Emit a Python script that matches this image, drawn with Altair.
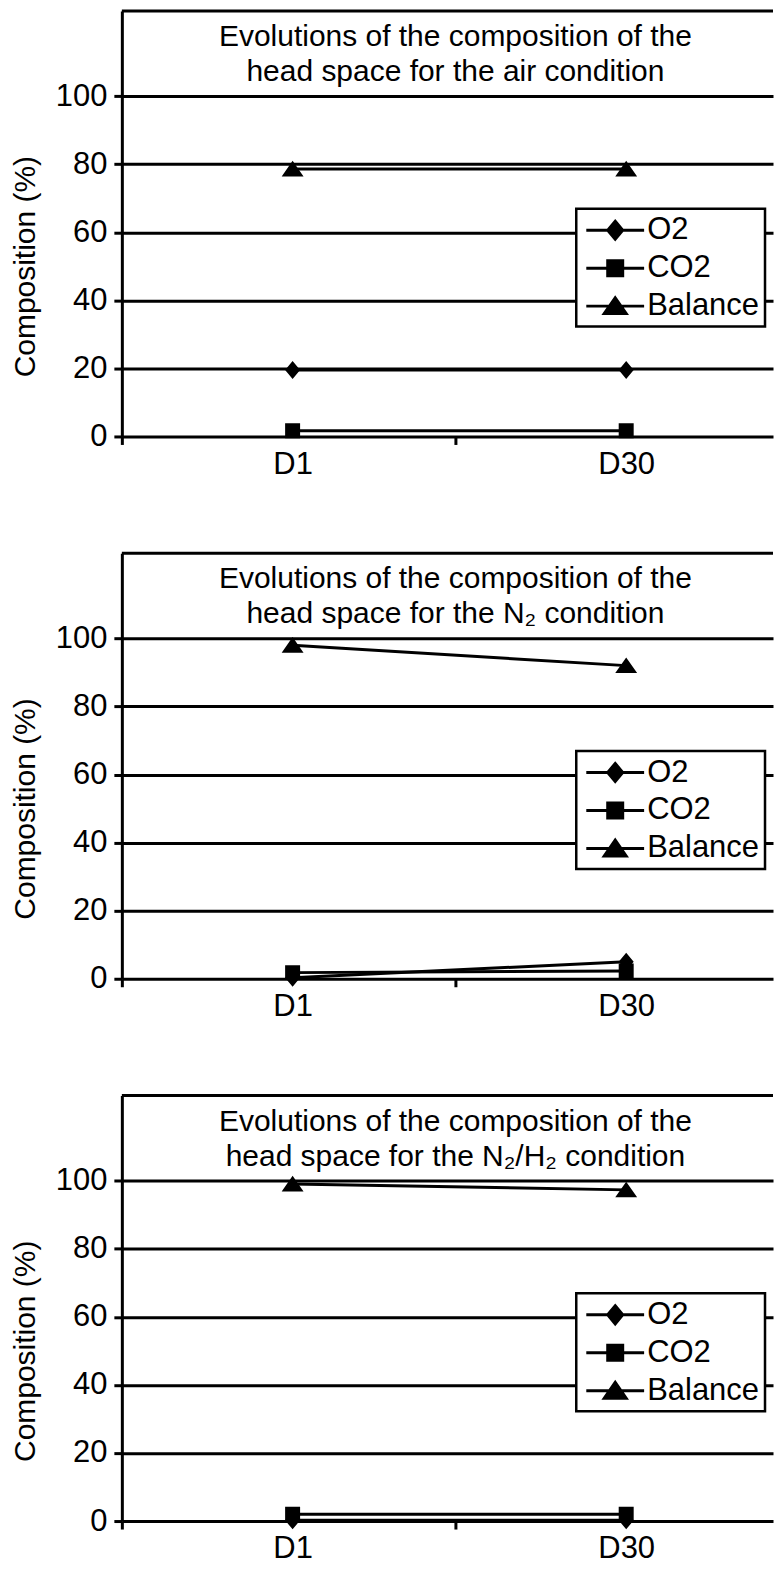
import altair as alt
import pandas as pd

# ---- data ----
days = ["D1", "D30"]
series = ["O2", "CO2", "Balance"]
y_ticks = [0, 20, 40, 60, 80, 100]
y_top = 125

titles = [
    ["Evolutions of the composition of the", "head space for the air condition"],
    ["Evolutions of the composition of the", "head space for the N\u2082 condition"],
    ["Evolutions of the composition of the", "head space for the N\u2082/H\u2082 condition"],
]

air_o2 = [19.5, 19.5]
air_co2 = [1.7, 1.7]
air_bal = [78.6, 78.6]

n2_o2 = [0.3, 5.0]
n2_co2 = [1.8, 2.3]
n2_bal = [98.0, 92.0]

nh_o2 = [0.2, 0.2]
nh_co2 = [2.0, 2.0]
nh_bal = [99.0, 97.3]

panels = [
    (air_o2, air_co2, air_bal),
    (n2_o2, n2_co2, n2_bal),
    (nh_o2, nh_co2, nh_bal),
]

FONT = "Liberation Sans, Arial, Helvetica, sans-serif"
W, H = 652, 426

# marker shapes: a horizontal line (visible only when stroked, i.e. in the legend) + filled marker
L = 1.93
shape_paths = [
    f"M-{L},0H{L}M0,-0.6L0.5,0L0,0.6L-0.5,0Z",          # diamond
    f"M-{L},0H{L}M-0.5,-0.5H0.5V0.5H-0.5Z",              # square
    f"M-{L},0H{L}M0,-0.55L0.73,0.5L-0.73,0.5Z",          # triangle
]
shape_scale = alt.Scale(domain=series, range=shape_paths)

x_enc = alt.X(
    "day:N",
    sort=days,
    title=None,
    scale=alt.Scale(type="point", padding=0.476, align=0.5377),
    axis=alt.Axis(
        labelAngle=0,
        grid=False,
        domain=False,
        ticks=True,
        tickColor="black",
        tickWidth=3,
        tickSize=8,
        tickOffset=-171,
        labelOffset=171,
        labelPadding=29,
        labelBaseline="alphabetic",
        labelFont=FONT,
        labelFontSize=31,
        labelColor="black",
    ),
)

y_scale = alt.Scale(domain=[0, y_top], nice=False, zero=True)
y_axis = alt.Axis(
    values=y_ticks,
    title="Composition (%)",
    titleFont=FONT,
    titleFontSize=30,
    titleFontWeight="normal",
    titleColor="black",
    titleAngle=270,
    titleBaseline="alphabetic",
    titleX=-87,
    titleY=255.5,
    grid=True,
    gridColor="black",
    gridWidth=3,
    gridOpacity=1,
    domainColor="black",
    domainWidth=3,
    tickColor="black",
    tickWidth=3,
    tickSize=8,
    labelPadding=7,
    labelFont=FONT,
    labelFontSize=31,
    labelColor="black",
)


def panel(values, title_lines):
    rows = []
    for s, vals in zip(series, values):
        for d, v in zip(days, vals):
            rows.append({"day": d, "series": s, "value": v})
    df = pd.DataFrame(rows)

    base = alt.Chart(df).encode(x=x_enc, y=alt.Y("value:Q", scale=y_scale, axis=y_axis))

    # legend source (first layer so its legend settings win); its symbols sit under the opaque legend box
    ldf = pd.DataFrame({"series": series})
    legend_src = (
        alt.Chart(ldf)
        .mark_point(filled=True, color="black", stroke="black", strokeWidth=3, size=900)
        .encode(
            shape=alt.Shape(
                "series:N",
                scale=shape_scale,
                legend=alt.Legend(title=None, orient="none", legendX=455, legendY=198),
            ),
            x=alt.value(550),
            y=alt.value(256),
        )
    )

    lines = base.mark_line(color="black", strokeWidth=3).encode(detail="series:N")

    points = base.mark_point(filled=True, color="black", size=900, opacity=1).encode(
        shape=alt.Shape("series:N", scale=shape_scale, legend=None)
    )

    # top frame line of the plot box
    top_rule = (
        alt.Chart(pd.DataFrame({"value": [y_top]}))
        .mark_rule(color="black", strokeWidth=3)
        .encode(y=alt.Y("value:Q", scale=y_scale, axis=y_axis))
    )

    tdf = pd.DataFrame({"t": ["\n".join(title_lines)]})
    title = (
        alt.Chart(tdf)
        .mark_text(
            lineBreak="\n",
            lineHeight=35,
            font=FONT,
            fontSize=30,
            color="black",
            align="center",
            baseline="alphabetic",
        )
        .encode(text="t:N", x=alt.value(334), y=alt.value(35))
    )

    return alt.layer(legend_src, lines, points, top_rule, title).properties(width=W, height=H)


charts = [panel(v, t) for v, t in zip(panels, titles)]

chart = (
    alt.vconcat(*charts, spacing=117, bounds="flush")
    .resolve_legend(shape="independent")
    .properties(padding={"left": 3, "top": 0, "right": 0, "bottom": 0})
    .configure_view(stroke=None)
    .configure_legend(
        fillColor="white",
        strokeColor="black",
        strokeWidth=2.5,
        padding=5,
        symbolSize=900,
        symbolStrokeWidth=3,
        symbolOffset=17.5,
        labelOffset=15.5,
        labelFont=FONT,
        labelFontSize=31,
        labelColor="black",
        rowPadding=6,
        symbolOpacity=1,
    )
)

chart.save("out.html", embed_options={"renderer": "svg", "actions": False})
